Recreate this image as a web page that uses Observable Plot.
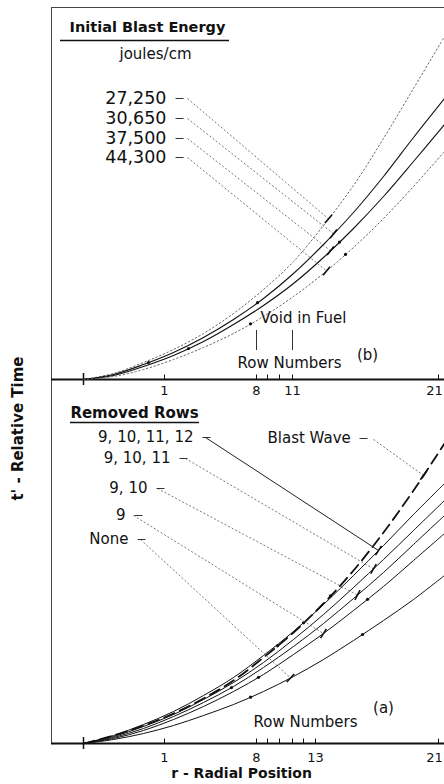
<!DOCTYPE html>
<html><head><meta charset="utf-8">
<script src="https://cdn.jsdelivr.net/npm/d3@7"></script>
<script src="https://cdn.jsdelivr.net/npm/@observablehq/plot@0.6"></script>
<style>html,body{margin:0;padding:0;background:#fff}svg{display:block}</style>
</head><body><div id="chart"></div>
<script>
// ---------- data ----------
const radialPosition = [0, 3, 6, 9, 12, 15, 18, 21, 24, 27, 30, 33, 36.1];

// panel (b): initial blast energy, joules/cm
const energyLabels = ["27,250", "30,650", "37,500", "44,300"];
const t27250 = [0, 0.6, 1.7, 3.0, 4.6, 6.6, 9.0, 11.8, 15.4, 19.4, 24.1, 29.1, 34.3];
const t30650 = [0, 0.5, 1.5, 2.7, 4.2, 6.0, 8.1, 10.6, 13.5, 16.7, 20.3, 24.2, 28.1];
const t37500 = [0, 0.4, 1.3, 2.4, 3.8, 5.5, 7.4, 9.6, 12.2, 15.1, 18.3, 21.8, 25.5];
const t44300 = [0, 0.3, 1.0, 2.0, 3.2, 4.6, 6.3, 8.3, 10.6, 13.2, 16.1, 19.3, 22.8];

// panel (a): removed rows
const removedLabels = ["9, 10, 11, 12", "9, 10, 11", "9, 10", "9", "None"];
const tRows9to12 = [0, 0.8, 1.9, 3.2, 4.8, 6.6, 8.8, 11.2, 13.9, 16.8, 19.8, 22.9, 26.0];
const tRows9to11 = [0, 0.7, 1.7, 2.9, 4.4, 6.1, 8.1, 10.4, 12.9, 15.6, 18.4, 21.3, 24.3];
const tRows9to10 = [0, 0.6, 1.5, 2.7, 4.1, 5.7, 7.6, 9.7, 12.0, 14.5, 17.1, 19.9, 22.8];
const tRow9 = [0, 0.5, 1.3, 2.4, 3.7, 5.2, 6.9, 8.9, 11.0, 13.3, 15.7, 18.3, 21.0];
const tNone = [0, 0.4, 1.0, 1.8, 2.8, 3.9, 5.2, 6.7, 8.4, 10.3, 12.3, 14.4, 16.8];
const tBlastWave = [0, 0.8, 1.8, 3.0, 4.5, 6.3, 8.6, 11.1, 14.0, 17.3, 21.1, 25.3, 30.0];

// row-number ticks on the radial axis
const rowLabelsTop = ["1", "8", "11", "21"];
const rowPosTop = [8.1, 17.3, 20.9, 35.5];
const rowMinorTop = [18.4, 19.6];
const rowLabelsBottom = ["1", "8", "13", "21"];
const rowPosBottom = [8.1, 17.3, 23.2, 35.5];
const rowMinorBottom = [18.4, 19.6, 20.9, 22.0];

// ---------- layout helpers ----------
const baseB = 36.4, baseA = 0;       // t' origin of each panel
const rMin = -3.2, rMax = 36.1, tMax = 73.6;
const font = "DejaVu Sans";

const topCurves = [t27250, t30650, t37500, t44300];
const botCurves = [tRows9to12, tRows9to11, tRows9to10, tRow9, tNone];
const interp = arr => d3.scaleLinear().domain(radialPosition).range(arr);
const rows = (arr, base, name) => radialPosition.map((r, i) => ({r, t: arr[i] + base, name}));
const onCurve = (arr, base, r) => ({r, t: interp(arr)(r) + base});

// leader lines: label anchor -> point on curve
const topLeaders = [
  {r1: 10.4, t1: 28.1, curve: 0, r2: 24.5},
  {r1: 10.4, t1: 26.1, curve: 1, r2: 25.0},
  {r1: 10.4, t1: 24.1, curve: 2, r2: 24.7},
  {r1: 10.4, t1: 22.2, curve: 3, r2: 24.3}
].map(d => ({x1: d.r1, y1: d.t1 + baseB, x2: d.r2, y2: interp(topCurves[d.curve])(d.r2) + baseB, dark: false}));
const botLeaders = [
  {r1: 12.2, t1: 30.6, arr: tRows9to12, r2: 29.5, dark: true},
  {r1: 10.2, t1: 28.5, arr: tRows9to11, r2: 29.0},
  {r1: 7.4, t1: 25.5, arr: tRows9to10, r2: 27.4},
  {r1: 5.0, t1: 22.8, arr: tRow9, r2: 24.0},
  {r1: 5.7, t1: 20.4, arr: tNone, r2: 20.7},
  {r1: 29.0, t1: 30.4, arr: tBlastWave, r2: 34.0}
].map(d => ({x1: d.r1, y1: d.t1 + baseA, x2: d.r2, y2: interp(d.arr)(d.r2) + baseA, dark: !!d.dark}));
const leaders = topLeaders.concat(botLeaders);
// perpendicular end bars
const bars = leaders.map(d => {
  const dx = d.x2 - d.x1, dy = d.y2 - d.y1, L = Math.hypot(dx, dy), s = 0.55;
  return {x1: d.x2 - dy / L * s, y1: d.y2 + dx / L * s, x2: d.x2 + dy / L * s, y2: d.y2 - dx / L * s};
});
// small arrowhead dots along curves
const curveDots = [
  onCurve(t30650, baseB, 17.4), onCurve(t44300, baseB, 16.7),
  onCurve(t37500, baseB, 25.6), onCurve(t44300, baseB, 26.2),
  onCurve(t30650, baseB, 6.5), onCurve(t37500, baseB, 10.5),
  onCurve(tNone, baseA, 16.7), onCurve(tNone, baseA, 27.9),
  onCurve(tRow9, baseA, 17.5), onCurve(tRow9, baseA, 28.4),
  onCurve(tRows9to10, baseA, 14.8), onCurve(tBlastWave, baseA, 22.0),
  onCurve(tBlastWave, baseA, 24.7), onCurve(tBlastWave, baseA, 19.4)
];

const topLabelRows = energyLabels.map((e, i) => ({text: e, r: 8.3, t: [28.1, 26.1, 24.1, 22.2][i] + baseB}));
const botLabelRows = removedLabels.map((e, i) => ({text: e, r: [11.0, 8.7, 6.4, 4.2, 4.5][i], t: [30.6, 28.5, 25.5, 22.8, 20.4][i] + baseA}));
const dashes = topLabelRows.map(d => ({x1: d.r + 0.9, x2: d.r + 1.7, y: d.t}))
  .concat(botLabelRows.map(d => ({x1: d.r + 0.9, x2: d.r + 1.7, y: d.t})))
  .concat([{x1: 27.6, x2: 28.4, y: 30.5}]);

const marks = [
  // frame and axes
  Plot.ruleX([rMin], {y1: 0, y2: tMax, stroke: "#444", strokeWidth: 1}),
  Plot.ruleY([tMax], {x1: rMin, x2: rMax, stroke: "#444", strokeWidth: 1}),
  Plot.ruleY([baseB, baseA], {x1: rMin, x2: rMax, stroke: "#111", strokeWidth: 2}),
  Plot.ruleX([0], {y1: baseB - 0.6, y2: baseB + 0.6, stroke: "#111", strokeWidth: 1.5}),
  Plot.ruleX([0], {y1: baseA - 0.6, y2: baseA + 0.6, stroke: "#111", strokeWidth: 1.5}),
  Plot.ruleX(rowPosTop.concat(rowMinorTop), {y1: baseB, y2: baseB + 0.45, stroke: "#111"}),
  Plot.ruleX(rowPosBottom.concat(rowMinorBottom), {y1: baseA, y2: baseA + 0.45, stroke: "#111"}),
  Plot.text(rowLabelsTop, {x: (d, i) => Math.min(rowPosTop[i], 35.1), y: baseB - 1.1, text: d => d, fontSize: 13}),
  Plot.text(rowLabelsBottom, {x: (d, i) => Math.min(rowPosBottom[i], 35.1), y: baseA - 1.4, text: d => d, fontSize: 13}),
  // axis titles
  Plot.text(["t' - Relative Time"], {x: -6.5, y: 31.5, rotate: -90, text: d => d, fontSize: 15, fontWeight: "bold"}),
  Plot.text(["r - Radial Position"], {x: 15.8, y: -3.0, text: d => d, fontSize: 14, fontWeight: "bold"}),
  // curves panel (b)
  ...topCurves.map((arr, i) => Plot.line(rows(arr, baseB, energyLabels[i]), {
    x: "r", y: "t", curve: "catmull-rom", stroke: i === 0 || i === 3 ? "#666" : "#111",
    strokeWidth: i === 0 || i === 3 ? 1 : 1.1, strokeDasharray: i === 0 || i === 3 ? "1.5,2.5" : null
  })),
  // curves panel (a)
  ...botCurves.map((arr, i) => Plot.line(rows(arr, baseA, removedLabels[i]), {
    x: "r", y: "t", curve: "catmull-rom", stroke: "#111", strokeWidth: 1
  })),
  Plot.line(rows(tBlastWave, baseA, "Blast Wave"), {x: "r", y: "t", curve: "catmull-rom", stroke: "#111", strokeWidth: 1.8, strokeDasharray: "11,6"}),
  Plot.dot(curveDots, {x: "r", y: "t", r: 1.6, fill: "#111"}),
  // leaders
  Plot.link(leaders.filter(d => !d.dark), {x1: "x1", y1: "y1", x2: "x2", y2: "y2", stroke: "#555", strokeWidth: 0.8, strokeDasharray: "2,2"}),
  Plot.link(leaders.filter(d => d.dark), {x1: "x1", y1: "y1", x2: "x2", y2: "y2", stroke: "#222", strokeWidth: 1}),
  Plot.link(bars, {x1: "x1", y1: "y1", x2: "x2", y2: "y2", stroke: "#111", strokeWidth: 1.6}),
  Plot.link(dashes, {x1: "x1", x2: "x2", y1: "y", y2: "y", stroke: "#333", strokeWidth: 1}),
  // legend texts
  Plot.text(topLabelRows, {x: "r", y: "t", text: "text", textAnchor: "end", fontSize: 17.5}),
  Plot.text(botLabelRows, {x: "r", y: "t", text: "text", textAnchor: "end", fontSize: 15}),
  Plot.text(["Initial Blast Energy"], {x: 6.4, y: 35.2 + baseB, text: d => d, fontSize: 14.5, fontWeight: "bold"}),
  Plot.ruleY([33.9 + baseB], {x1: -2.3, x2: 14.6, stroke: "#111", strokeWidth: 1.3}),
  Plot.text(["joules/cm"], {x: 7.2, y: 32.5 + baseB, text: d => d, fontSize: 15}),
  Plot.text(["Removed Rows"], {x: 5.1, y: 33.0 + baseA, text: d => d, fontSize: 15, fontWeight: "bold"}),
  Plot.ruleY([32.1 + baseA], {x1: -1.3, x2: 11.6, stroke: "#111", strokeWidth: 1.3}),
  Plot.text(["Blast Wave"], {x: 18.4, y: 30.5 + baseA, text: d => d, textAnchor: "start", fontSize: 15}),
  Plot.text(["Void in Fuel"], {x: 17.7, y: 6.1 + baseB, text: d => d, textAnchor: "start", fontSize: 15}),
  Plot.ruleX([17.3, 20.9], {y1: 2.9 + baseB, y2: 4.9 + baseB, stroke: "#333", strokeWidth: 1}),
  Plot.text(["Row Numbers"], {x: 20.6, y: 1.6 + baseB, text: d => d, fontSize: 15}),
  Plot.text(["(b)"], {x: 28.4, y: 2.4 + baseB, text: d => d, fontSize: 15}),
  Plot.text(["Row Numbers"], {x: 22.2, y: 2.1 + baseA, text: d => d, fontSize: 15}),
  Plot.text(["(a)"], {x: 30.0, y: 3.5 + baseA, text: d => d, fontSize: 15})
];

const chart = Plot.plot({
  width: 444, height: 784,
  marginLeft: 51, marginRight: 0, marginTop: 7, marginBottom: 41,
  x: {domain: [rMin, rMax], axis: null},
  y: {domain: [0, tMax], axis: null},
  style: {fontFamily: font, fontSize: "15px", background: "white", color: "#111"},
  marks
});
document.getElementById("chart").append(chart);
</script></body></html>
